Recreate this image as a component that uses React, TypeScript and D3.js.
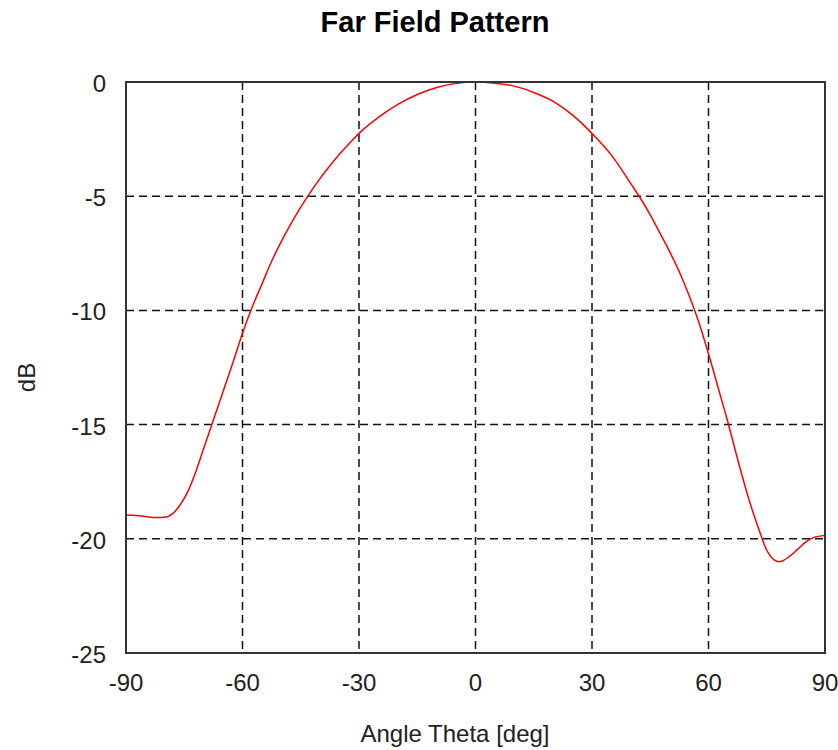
import React, { useEffect, useRef } from "react";
import * as d3 from "d3";

const thetaDeg = [
  -90, -87.5, -85, -82.5, -80, -78, -76, -74, -72, -70, -67.5, -65, -62.5, -60,
  -57.5, -55, -52.5, -50, -47.5, -45, -42.5, -40, -37.5, -35, -32.5, -30, -25, -20,
  -15, -10, -5, 0, 5, 10, 15, 20, 25, 30, 35, 40, 42.5, 45, 47.5, 50, 52.5, 55, 57.5,
  60, 62.5, 65, 67, 69, 71, 73, 75, 77, 78, 79, 81, 83, 85, 87, 90,
];
const gainDb = [
  -18.96, -18.98, -19.02, -19.07, -19.06, -18.9, -18.5, -17.9, -17.05, -16.05, -14.8,
  -13.55, -12.3, -11.0, -9.85, -8.85, -7.85, -6.98, -6.2, -5.48, -4.82, -4.22, -3.67,
  -3.15, -2.69, -2.25, -1.55, -0.98, -0.55, -0.24, -0.06, 0, -0.05, -0.18, -0.46,
  -0.85, -1.45, -2.25, -3.2, -4.45, -5.1, -5.82, -6.62, -7.43, -8.32, -9.35, -10.52,
  -11.9, -13.4, -14.9, -16.2, -17.45, -18.6, -19.6, -20.5, -20.93, -21.0, -20.97,
  -20.75, -20.45, -20.15, -19.95, -19.85,
];
const xTicks = [-90, -60, -30, 0, 30, 60, 90];
const yTicks = [0, -5, -10, -15, -20, -25];
const titleText = "Far Field Pattern";
const xLabel = "Angle Theta [deg]";
const yLabel = "dB";

export default function App() {
  const ref = useRef<SVGSVGElement>(null);
  useEffect(() => {
    const svg = d3.select(ref.current);
    svg.selectAll("*").remove();
    const left = 126, right = 825, top = 82, bottom = 653;
    const x = d3.scaleLinear().domain([-90, 90]).range([left, right]);
    const y = d3.scaleLinear().domain([-25, 0]).range([bottom, top]);
    const font = "'Liberation Sans', Arial, sans-serif";

    const g = svg.append("g");
    // grid
    xTicks.slice(1, -1).forEach((t) => {
      g.append("line").attr("x1", x(t)).attr("x2", x(t)).attr("y1", top).attr("y2", bottom)
        .attr("stroke", "#111").attr("stroke-width", 1.5).attr("stroke-dasharray", "8,5");
    });
    yTicks.slice(1, -1).forEach((t) => {
      g.append("line").attr("y1", y(t)).attr("y2", y(t)).attr("x1", left).attr("x2", right)
        .attr("stroke", "#111").attr("stroke-width", 1.5).attr("stroke-dasharray", "8,5");
    });
    // curve
    const pts = thetaDeg.map((t, i) => [t, gainDb[i]] as [number, number]);
    const line = d3.line<[number, number]>().x((d) => x(d[0])).y((d) => y(d[1])).curve(d3.curveMonotoneX);
    g.append("path").attr("d", line(pts)!).attr("fill", "none").attr("stroke", "#ff0000").attr("stroke-width", 1.5);
    // frame
    g.append("rect").attr("x", left).attr("y", top).attr("width", right - left).attr("height", bottom - top)
      .attr("fill", "none").attr("stroke", "#333").attr("stroke-width", 2);
    // ticks
    xTicks.forEach((t) => {
      g.append("text").attr("x", x(t)).attr("y", 691).attr("text-anchor", "middle")
        .attr("font-family", font).attr("font-size", 24).attr("fill", "#222").text(String(t));
    });
    yTicks.forEach((t) => {
      g.append("text").attr("x", 106).attr("y", y(t) + 10).attr("text-anchor", "end")
        .attr("font-family", font).attr("font-size", 24).attr("fill", "#222").text(String(t));
    });
    g.append("text").attr("x", 435).attr("y", 31.5).attr("text-anchor", "middle")
      .attr("font-family", font).attr("font-size", 29).attr("font-weight", "bold").attr("fill", "#000").text(titleText);
    g.append("text").attr("x", 455).attr("y", 742).attr("text-anchor", "middle")
      .attr("font-family", font).attr("font-size", 24).attr("fill", "#222").text(xLabel);
    g.append("text").attr("transform", "translate(35,377.5) rotate(-90)").attr("text-anchor", "middle")
      .attr("font-family", font).attr("font-size", 24).attr("fill", "#222").text(yLabel);
  }, []);
  return (
    <svg ref={ref} width={838} height={750} style={{ position: "absolute", left: 0, top: 0, background: "#fff" }} />
  );
}
